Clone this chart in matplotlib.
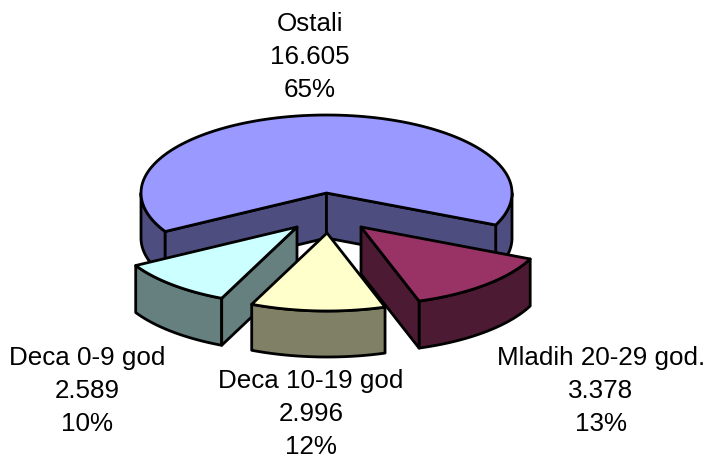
import numpy as np
import matplotlib
matplotlib.use('Agg')
import matplotlib.pyplot as plt
from matplotlib.patches import Polygon

plt.rcParams['font.family'] = ['Liberation Sans', 'DejaVu Sans']

names = ['Ostali', 'Mladih 20-29 god.', 'Deca 10-19 god', 'Deca 0-9 god']
values = [16605, 3378, 2996, 2589]

top_colors = ['#9999FF', '#993366', '#FFFFCC', '#CCFFFF']
side_colors = ['#4D4D80', '#4D1A33', '#808066', '#668080']

# pie geometry in pixels
cx, cy = 326.5, 193
rx, ry = 185.5, 78
start = 209.6
explode_x = [0, 34.5, 0.5, -29.5]
explode_y = [0, 34, 40, 34]
depth = [45, 47, 46, 47]
draw_order = [0, 3, 1, 2]
label_pos = [(310, 57), (601, 391), (311, 414), (87, 391)]
lw = 2.0


def arc(x0, y0, a0, a1):
    a = np.radians(np.linspace(a0, a1, 120))
    return list(zip(x0 + rx * np.cos(a), y0 - ry * np.sin(a)))


def add_poly(ax, pts, color, z):
    ax.add_patch(Polygon(pts, closed=True, facecolor=color, edgecolor='black',
                         linewidth=lw, joinstyle='round', zorder=z))


def draw_slice(ax, i, a0, a1, z):
    x0 = cx + explode_x[i]
    y0 = cy + explode_y[i]
    d = depth[i]
    top = arc(x0, y0, a0, a1)
    # outer wall only on the front half of the ellipse
    for k in (-1, 0, 1):
        lo = max(a1, -180 + 360 * k)
        hi = min(a0, 360 * k)
        if hi > lo:
            add_poly(ax, arc(x0, y0, lo, hi) + arc(x0, y0 + d, hi, lo), side_colors[i], z)
    # a cut face shows only when it looks towards the viewer
    if np.cos(np.radians(a0)) < 0:
        edge = top[0]
        add_poly(ax, [(x0, y0), edge, (edge[0], edge[1] + d), (x0, y0 + d)], side_colors[i], z + 0.1)
    if np.cos(np.radians(a1)) > 0:
        edge = top[-1]
        add_poly(ax, [(x0, y0), edge, (edge[0], edge[1] + d), (x0, y0 + d)], side_colors[i], z + 0.1)
    add_poly(ax, [(x0, y0)] + top, top_colors[i], z + 0.2)


fig = plt.figure(figsize=(7.05, 4.57), dpi=100)
ax = fig.add_axes([0, 0, 1, 1])
ax.set_xlim(0, 705)
ax.set_ylim(457, 0)
ax.axis('off')

total = sum(values)
spans = [v / total * 360 for v in values]
bounds = [start]
for s in spans:
    bounds.append(bounds[-1] - s)

for n, i in enumerate(draw_order):
    draw_slice(ax, i, bounds[i], bounds[i + 1], n + 1)

for i in range(len(names)):
    val = f'{values[i]:,}'.replace(',', '.')
    pct = round(values[i] / total * 100)
    ax.text(label_pos[i][0], label_pos[i][1], f'{names[i]}\n{val}\n{pct}%',
            ha='center', va='center', ma='center', fontsize=18.7, linespacing=1.45,
            color='black', zorder=10)

fig.savefig('out.png', dpi=100)
